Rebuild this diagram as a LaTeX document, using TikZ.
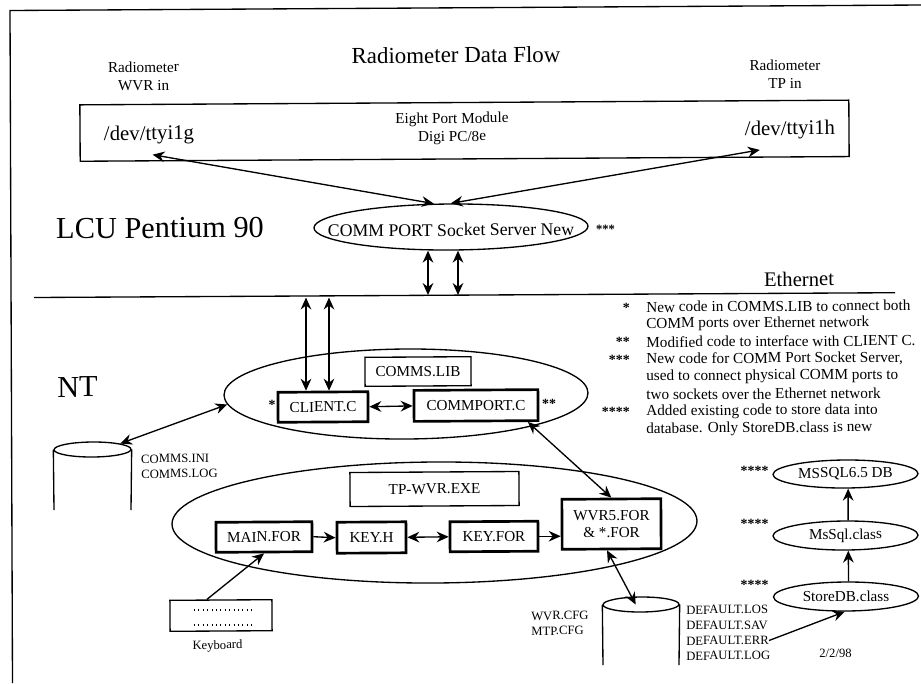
\documentclass[tikz,border=0pt]{standalone}
\usepackage{fontspec}
\setmainfont{Liberation Serif}
\usetikzlibrary{positioning, shapes.geometric, arrows.meta}

\tikzset{
	every node/.style={rotate=0.35, inner sep=0},
	line/.style={line width=1pt},
	both/.style={line, {Stealth[length=9pt,width=8pt,inset=3pt]}-{Stealth[length=9pt,width=8pt,inset=3pt]}},
	one/.style={line, -{Stealth[length=9pt,width=8pt,inset=3pt]}},
	oval/.style={draw, line, ellipse},
	thinbox/.style={draw, line, rectangle, font=\fontsize{11.4}{13}\selectfont},
	filebox/.style={draw, line width=2pt, rectangle, font=\fontsize{11.4}{13}\selectfont},
	small/.style={font=\fontsize{9.5}{11.3}\selectfont},
	medium/.style={font=\fontsize{11.4}{13.5}\selectfont},
	notes/.style={font=\fontsize{11.45}{13.1}\selectfont},
	stars/.style={font=\fontsize{10.5}{12}\selectfont\bfseries},
	big/.style={font=\fontsize{22.8}{26}\selectfont},
	port/.style={font=\fontsize{15.6}{18}\selectfont, inner ysep=7.5pt}
}

\begin{document}
\begin{tikzpicture}[x=0.75pt, y=-0.75pt]
	\useasboundingbox (0,0) rectangle (921,683);
	% scan frame, only top and left are there
	\coordinate (corner) at (10,10.5);
	\coordinate (frameright) at (921,5);
	\coordinate (framebottom) at (12.5,683);
	\draw[line] (framebottom) -- (corner) -- (frameright);

	\node[font=\fontsize{17.2}{20}\selectfont] (title) at (456,55) {Radiometer Data Flow};
	\node[medium, align=center] (wvrin) at (143.5,76) {Radiometer\\WVR in};
	\node[medium, align=center] (tpin) at (785,74) {Radiometer\\TP in};

	% module
	\node[draw, line, minimum width=576.75pt, minimum height=42.3pt] (module) at (464.5,130.7) {};
	\node[medium, align=center] (digi) at (452,128.5) {Eight Port Module\\Digi PC/8e};
	\node[port] (ttyg) at (149,135) {/dev/ttyi1g};
	\node[port] (ttyh) at (790,130) {/dev/ttyi1h};

	% LCU
	\node[big] (lcu) at (160,228) {LCU Pentium 90};
	\node[oval, minimum width=205.5pt, minimum height=34.5pt] (socket) at (451,227) {};
	\node[font=\fontsize{13.3}{16}\selectfont] (sockettext) at (451,230) {COMM PORT Socket Server New};
	\node[font=\fontsize{9.5}{11}\selectfont\bfseries] (socketstar) at (605.5,229) {***};
	\path[every edge/.append style=both]
		(ttyg.-80) edge (socket.126)
		(ttyh.213) edge (socket.north);

	% Ethernet
	\coordinate (etherl) at (34,297.5);
	\coordinate (etherr) at (895,292.7);
	\draw[line] (etherl) -- (etherr);
	\node[font=\fontsize{15.5}{18}\selectfont] (ethernet) at (799,279) {Ethernet};
	\coordinate (tapa) at (428,295);
	\coordinate (tapb) at (458,295);
	\coordinate (tapc) at (306,297.5);
	\coordinate (tapd) at (329,297.5);

	% notes
	\foreach \y/\n/\t in {307/1/{New code in COMMS.LIB to connect both},
		324.5/2/{COMM ports over Ethernet network},
		342/3/{Modified code to interface with CLIENT C.},
		359.5/4/{New code for COMM Port Socket Server,},
		377/5/{used to connect physical COMM ports to},
		394.5/6/{two sockets over the Ethernet network},
		412/7/{Added existing code to store data into},
		429.5/8/{database. Only StoreDB.class is new}} {
		\node[notes, anchor=west] (note\n) at (646,\y) {\t};
	};
	\foreach \y/\n/\t in {308/a/{*},342/b/{**},360/c/{***},412/d/{****}} {
		\node[stars, anchor=east] (star\n) at (630,\y) {\t};
	};

	% NT, COMMS.LIB
	\node[big] (nt) at (77.5,387) {NT};
	\node[oval, minimum width=273pt, minimum height=67.5pt] (lib) at (406,394) {};
	\node[thinbox, minimum width=79.5pt, minimum height=21.75pt] (libname) at (418,371.5) {COMMS.LIB};
	\node[filebox, minimum width=67.5pt, minimum height=22.5pt] (client) at (323,407) {CLIENT.C};
	\node[filebox, minimum width=93pt, minimum height=23.25pt] (commport) at (476,405.5) {COMMPORT.C};
	\node[stars] (clientstar) at (272,405) {*};
	\node[stars] (portstar) at (549,404) {**};
	\node[oval, minimum width=57.75pt, minimum height=11.25pt] (cfga) at (92.5,449.5) {};
	\coordinate (cfgaleft) at (54,510);
	\coordinate (cfgaright) at (131,510);
	\draw[line] (cfga.west) -- (cfgaleft);
	\draw[line] (cfga.east) -- (cfgaright);
	\node[small, align=left, anchor=west] (inilog) at (141,466.5) {COMMS.INI\\COMMS.LOG};

	% TP-WVR.EXE
	\node[oval, minimum width=393.75pt, minimum height=90.75pt] (exe) at (434.5,522.5) {};
	\node[thinbox, minimum width=126.75pt, minimum height=25.5pt] (exename) at (434.5,489) {TP-WVR.EXE};
	\node[filebox, minimum width=72pt, minimum height=22.5pt] (main) at (264,537) {MAIN.FOR};
	\node[filebox, minimum width=51.75pt, minimum height=23.25pt] (keyh) at (371.5,537.5) {KEY.H};
	\node[filebox, minimum width=66pt, minimum height=22.5pt] (keyfor) at (494,536.5) {KEY.FOR};
	\node[filebox, minimum width=74.25pt, minimum height=37.5pt, align=center] (wvr) at (611.5,524) {WVR5.FOR\\\& *.FOR};

	% keyboard
	\node[draw, line, minimum width=76.5pt, minimum height=23.25pt] (keys) at (221,615.5) {};
	\node[small] (keyboard) at (217.5,646) {Keyboard};
	\foreach \y/\n in {610/a,625/b} {
		\coordinate (row\n l) at (194,\y);
		\coordinate (row\n r) at (255,\y);
		\draw[line width=0.8pt, dash pattern=on 0.8pt off 2.5pt] (row\n l) -- (row\n r);
	};

	% config and data files
	\node[oval, minimum width=57pt, minimum height=11.25pt] (cfgb) at (641,604.5) {};
	\coordinate (cfgbleft) at (603,665);
	\coordinate (cfgbright) at (679,665);
	\draw[line] (cfgb.west) -- (cfgbleft);
	\draw[line] (cfgb.east) -- (cfgbright);
	\node[small, align=left, anchor=west] (cfgfiles) at (531,623.5) {WVR.CFG\\MTP.CFG};
	\foreach \y/\n/\t in {610/a/LOS,625.5/b/SAV,641/c/ERR,656/d/LOG} {
		\node[small, anchor=west] (def\n) at (686,\y) {DEFAULT.\t};
	};

	% java side
	\node[oval, medium, minimum width=108.75pt, minimum height=21pt] (mssql) at (845.5,474) {MSSQL6.5 DB};
	\node[oval, medium, minimum width=108.75pt, minimum height=21.75pt] (mssqlclass) at (845.5,535.5) {MsSql.class};
	\node[oval, medium, minimum width=108.75pt, minimum height=21.75pt] (storedb) at (846,596.5) {StoreDB.class};
	\foreach \y/\n in {471/a,524/b,585/c} {
		\node[stars] (dbstar\n) at (754.5,\y) {****};
	};
	\node[small] (date) at (835.5,653) {2/2/98};

	\path[every edge/.append style=both]
		(tapa |- socket.south) edge (tapa)
		(tapb |- socket.south) edge (tapb)
		(tapc) edge (tapc |- client.north)
		(tapd) edge (tapd |- client.north)
		(client.east) edge (commport.west)
		(cfga.north east) edge (lib.183)
		(keyh.east) edge (keyfor.west)
		(commport.-18) edge (wvr.north)
		(wvr.-100) edge ([xshift=-4pt]cfgb.center);
	\path[every edge/.append style=one]
		(main.east) edge (keyh.west)
		(keyfor.east) edge (wvr.west |- keyfor.east)
		(keys.131) edge (main.south)
		(defc.east) edge (storedb.-95)
		(storedb.80) edge (mssqlclass.-80)
		(mssqlclass.80) edge (mssql.-80);
\end{tikzpicture}
\end{document}
